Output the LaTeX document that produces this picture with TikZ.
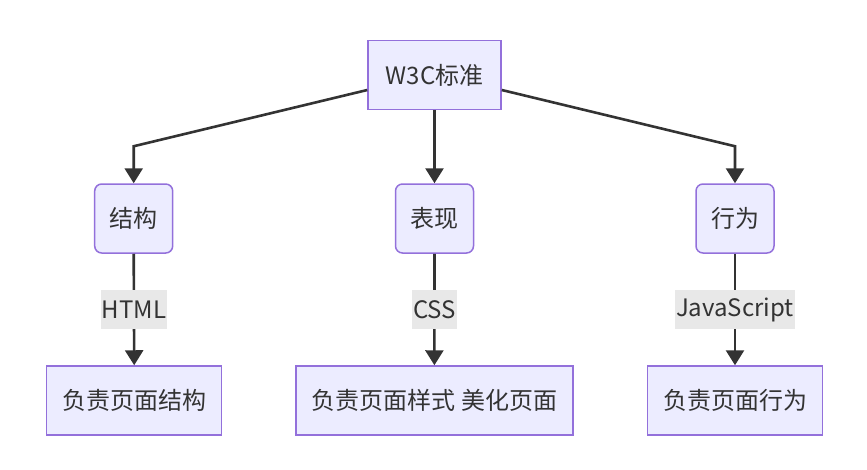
\documentclass[tikz,border=0pt]{standalone}
\usepackage{fontspec}
\setmainfont{Noto Sans CJK SC}
\usetikzlibrary{arrows.meta}
\definecolor{nodefill}{HTML}{ECECFF}
\definecolor{nodeline}{HTML}{9370DB}
\definecolor{ink}{HTML}{333333}
\definecolor{lblbg}{HTML}{E8E8E8}
\tikzset{
  box/.style={draw=nodeline, fill=nodefill, line width=1.5pt, minimum height=69pt,
    inner xsep=0pt, text=ink, font=\fontsize{24}{28}\selectfont},
  rbox/.style={box, rounded corners=7pt},
  edge/.style={draw=ink, line width=2.6pt, -{Triangle[length=15pt,width=18pt]}},
  lbl/.style={fill=lblbg, text=ink, font=\fontsize{24}{28}\selectfont, inner xsep=1pt,
    minimum height=39pt, inner ysep=0pt}
}
\begin{document}
\begin{tikzpicture}[x=1pt,y=-1pt]
\useasboundingbox (0,0) rectangle (867,469);
\node[box, minimum width=133pt] (w3c) at (434.5,75) {W3C标准};
\node[rbox, minimum width=78pt] (jg) at (133.7,218.5) {结构};
\node[rbox, minimum width=78pt] (bx) at (434.5,218.5) {表现};
\node[rbox, minimum width=78pt] (xw) at (735,218.5) {行为};
\node[box, minimum width=175pt] (fjg) at (134.2,400.5) {负责页面结构};
\node[box, minimum width=277pt] (fys) at (434.4,400.5) {负责页面样式 美化页面};
\node[box, minimum width=174.6pt] (fxw) at (735,400.5) {负责页面行为};
\draw[edge, line join=miter] ([yshift=-15pt]w3c.west) -- ([yshift=37pt]jg.north) -- (jg.north);
\draw[edge] (w3c.south) -- (bx.north);
\draw[edge, line join=miter] ([yshift=-15pt]w3c.east) -- ([yshift=37pt]xw.north) -- (xw.north);
\draw[edge] (jg.south) -- (fjg.north);
\draw[edge] (bx.south) -- (fys.north);
\draw[edge] (xw.south) -- (fxw.north);
\node[lbl] (l1) at (134,309.5) {HTML};
\node[lbl] (l2) at (434.5,309.5) {CSS};
\node[lbl] (l3) at (735,309.5) {JavaScript};
\end{tikzpicture}
\end{document}
